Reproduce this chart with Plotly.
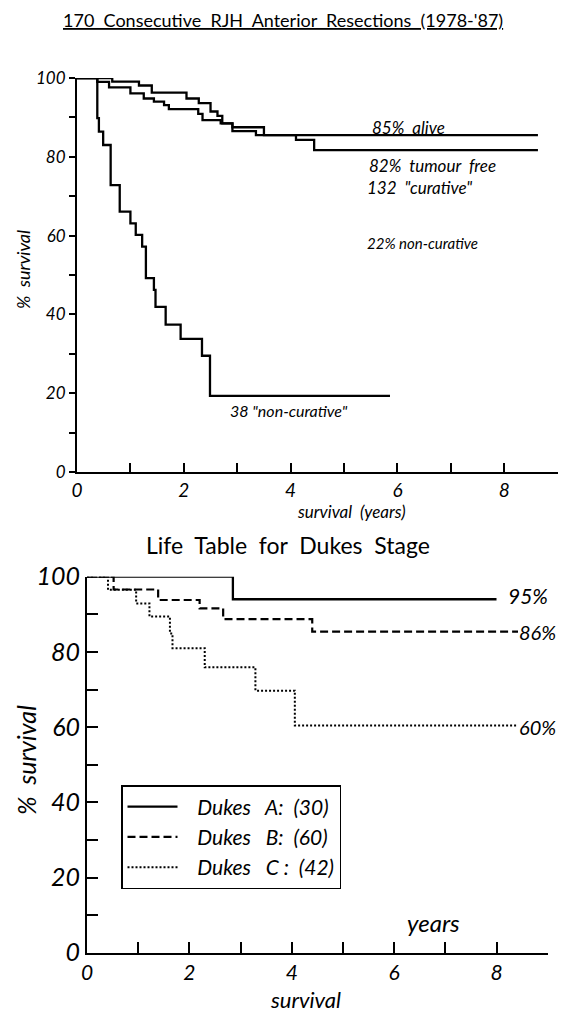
import plotly.graph_objects as go

# ---------------- data ----------------
# Top panel: 170 consecutive RJH anterior resections
alive_years = [0, 0.66, 1.16, 1.40, 2.05, 2.28, 2.50, 2.63, 2.72, 2.91, 3.50, 8.63]
alive_pct = [100, 99.1, 98.1, 96.3, 94.8, 93.6, 91.5, 90.4, 88.5, 87.5, 85.5, 85.5]

tumour_free_years = [0, 0.38, 0.60, 1.00, 1.25, 1.44, 1.63, 1.72, 2.27, 2.35, 2.69, 2.91, 3.35, 4.10, 4.44, 8.63]
tumour_free_pct = [100, 99.0, 97.6, 96.1, 94.8, 94.0, 93.1, 92.1, 90.9, 89.3, 88.5, 86.5, 85.5, 84.3, 81.7, 81.7]

noncurative_years = [0, 0.38, 0.41, 0.49, 0.63, 0.80, 1.00, 1.10, 1.22, 1.29, 1.44, 1.47, 1.66, 1.94, 2.34, 2.49, 5.86]
noncurative_pct = [100, 89.8, 86.4, 83.0, 72.8, 66.1, 63.1, 60.2, 57.2, 49.2, 46.2, 41.9, 37.4, 33.8, 29.5, 19.3, 19.3]

# Bottom panel: life table for Dukes stage
dukes_a_years = [0, 2.85, 8.0]
dukes_a_pct = [100, 94.0, 94.0]
dukes_b_years = [0, 0.52, 1.39, 2.20, 2.66, 4.40, 8.42]
dukes_b_pct = [100, 96.6, 93.8, 91.6, 88.7, 85.4, 85.4]
dukes_c_years = [0, 0.41, 0.96, 1.22, 1.62, 1.67, 2.30, 3.29, 4.06, 8.42]
dukes_c_pct = [100, 96.5, 92.9, 89.4, 84.9, 81.0, 75.9, 69.7, 60.4, 60.4]

dukes_names = ["\u00a0\u00a0\u00a0Dukes\u00a0\u00a0\u00a0A:\u00a0\u00a0(30)",
               "\u00a0\u00a0\u00a0Dukes\u00a0\u00a0\u00a0B:\u00a0\u00a0(60)",
               "\u00a0\u00a0\u00a0Dukes\u00a0\u00a0\u00a0C\u00a0:\u00a0\u00a0(42)"]

x_ticks = list(range(0, 10))
x_ticktext = [str(v) if v % 2 == 0 and v < 9 else "" for v in x_ticks]
y_ticks = list(range(0, 101, 10))
y_ticktext = [str(v) if v % 20 == 0 else "" for v in y_ticks]

# ---------------- figure ----------------
# page is 566x1021; the browser's default 8px body margin offsets the figure
OFF = 8
W, H = 566 - 2 * OFF, 1021 - 2 * OFF
FONT = "Lato, Roboto, sans-serif"


def px(x):
    return (x - OFF) / W


def py(y):
    return 1 - (y - OFF) / H


fig = go.Figure()

line_top = dict(color="black", width=2.3)
fig.add_trace(go.Scatter(x=alive_years, y=alive_pct, mode="lines", line=dict(line_top, shape="hv"),
                         showlegend=False, xaxis="x", yaxis="y"))
fig.add_trace(go.Scatter(x=tumour_free_years, y=tumour_free_pct, mode="lines", line=dict(line_top, shape="hv"),
                         showlegend=False, xaxis="x", yaxis="y"))
fig.add_trace(go.Scatter(x=noncurative_years, y=noncurative_pct, mode="lines", line=dict(line_top, shape="hv"),
                         showlegend=False, xaxis="x", yaxis="y"))

fig.add_trace(go.Scatter(x=dukes_a_years, y=dukes_a_pct, mode="lines", name=dukes_names[0],
                         line=dict(color="black", width=2.3, shape="hv"), xaxis="x2", yaxis="y2"))
fig.add_trace(go.Scatter(x=dukes_b_years, y=dukes_b_pct, mode="lines", name=dukes_names[1],
                         line=dict(color="black", width=2.2, shape="hv", dash="8px,4px"), xaxis="x2", yaxis="y2"))
fig.add_trace(go.Scatter(x=dukes_c_years, y=dukes_c_pct, mode="lines", name=dukes_names[2],
                         line=dict(color="black", width=2.0, shape="hv", dash="2px,2px"), xaxis="x2", yaxis="y2"))

axis_common = dict(showline=True, linecolor="black", linewidth=2, showgrid=False, zeroline=False,
                   tickcolor="black", tickwidth=2, tickmode="array", automargin=False)

fig.update_layout(
    width=W, height=H,
    margin=dict(l=0, r=0, t=0, b=0, autoexpand=False),
    paper_bgcolor="white", plot_bgcolor="white",
    font=dict(family=FONT, color="black"),
    xaxis=dict(axis_common, domain=[px(77), px(557.7)], range=[0, 9], anchor="y",
               tickvals=x_ticks, ticktext=x_ticktext, ticks="inside", ticklen=9,
               tickfont=dict(family=FONT, size=19, style="italic")),
    yaxis=dict(axis_common, domain=[py(472), py(78)], range=[0, 100], anchor="x",
               tickvals=y_ticks, ticktext=y_ticktext, ticks="outside", ticklen=6,
               tickfont=dict(family=FONT, size=17, style="italic")),
    xaxis2=dict(axis_common, domain=[px(87), px(547.7)], range=[0, 9], anchor="y2",
                tickvals=x_ticks, ticktext=x_ticktext, ticks="inside", ticklen=11,
                tickfont=dict(family=FONT, size=21, style="italic")),
    yaxis2=dict(axis_common, domain=[py(952.7), py(576.7)], range=[0, 100], anchor="x2",
                tickvals=y_ticks, ticktext=y_ticktext, ticks="inside", ticklen=11,
                tickfont=dict(family=FONT, size=25, style="italic")),
    legend=dict(x=px(121), y=py(785), xanchor="left", yanchor="top",
                bordercolor="black", borderwidth=1.5, bgcolor="white",
                font=dict(family=FONT, size=21, style="italic"),
                itemwidth=50, tracegroupgap=0),
)


def ann(text, x, y, size, italic=True, xanchor="center", textangle=0):
    fig.add_annotation(text=text, x=px(x), y=py(y), xref="paper", yref="paper",
                       xanchor=xanchor, yanchor="middle", showarrow=False, textangle=textangle,
                       font=dict(family=FONT, size=size, color="black",
                                 style="italic" if italic else "normal"))


# top panel texts
ann("<u>170\u00a0 Consecutive\u00a0 RJH\u00a0 Anterior\u00a0 Resections\u00a0 (1978-'87)</u>", 283, 20, 18, italic=False)
ann("85%\u00a0 alive", 370, 127, 17, xanchor="left")
ann("82%\u00a0 tumour\u00a0 free", 367, 165, 17, xanchor="left")
ann("132\u00a0 \"curative\"", 365, 187, 17, xanchor="left")
ann("22% non-curative", 365, 243, 15, xanchor="left")
ann("38 \"non-curative\"", 228, 410, 16, xanchor="left")
ann("survival\u00a0 (years)", 351, 512, 17)
ann("%\u00a0 survival", 23, 270, 18, textangle=-90)

# bottom panel texts
ann("Life\u00a0 Table\u00a0 for\u00a0 Dukes\u00a0 Stage", 288, 545, 23, italic=False)
ann("95%", 506, 595, 21, xanchor="left")
ann("86%", 517, 632, 20, xanchor="left")
ann("60%", 517, 727, 20, xanchor="left")
ann("years", 433, 922, 24)
ann("survival", 305, 999, 22)
ann("%\u00a0 survival", 26, 760, 25, textangle=-90)

fig.write_html("out.html")
